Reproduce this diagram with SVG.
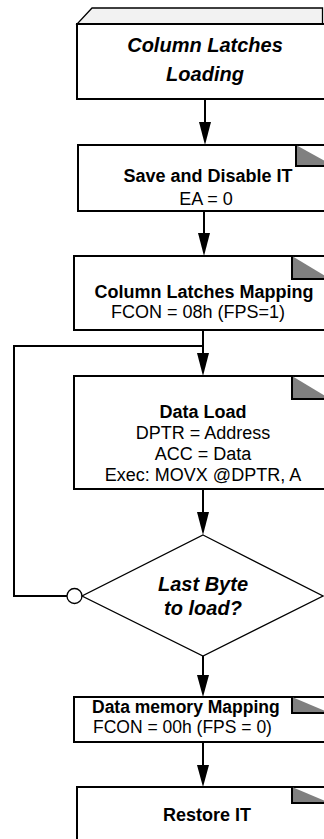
<svg xmlns="http://www.w3.org/2000/svg" width="324" height="839" viewBox="0 0 324 839">
<style>
.box{fill:#fff;stroke:#000;stroke-width:2}
.ear{fill:#808080;stroke:none}
.earl{fill:none;stroke:#000;stroke-width:2}
.con{fill:none;stroke:#000;stroke-width:2}
.t{font-family:"Liberation Sans",Arial,sans-serif;font-size:18px;text-anchor:middle;fill:#000}
.b{font-weight:bold}
.bi{font-weight:bold;font-style:italic;font-size:20px}
</style>
<g id="connectors">
<line class="con" x1="205" y1="99" x2="205" y2="124"/>
<path d="M199,122 L211,122 L205,145 Z" fill="#000"/>
<line class="con" x1="204" y1="211" x2="204" y2="236"/>
<path d="M198,233 L210,233 L204,256 Z" fill="#000"/>
<line class="con" x1="203" y1="330" x2="203" y2="356"/>
<path d="M197,353 L209,353 L203,376 Z" fill="#000"/>
<polyline class="con" points="203,346 14,346 14,596 67,596"/>
<circle cx="74.5" cy="596" r="7.5" fill="#fff" stroke="#000" stroke-width="1.3"/>
<line class="con" x1="203" y1="489" x2="203" y2="515"/>
<path d="M197,512 L209,512 L203,535 Z" fill="#000"/>
<line class="con" x1="203" y1="656" x2="203" y2="678"/>
<path d="M197,675 L209,675 L203,697 Z" fill="#000"/>
<line class="con" x1="203" y1="742" x2="203" y2="768"/>
<path d="M197,765 L209,765 L203,787 Z" fill="#000"/>
</g>
<g id="n1">
<polygon points="92,8 322.5,8 322.5,24 77,24" fill="#f2f2f2" stroke="#000" stroke-width="1.3"/>
<rect class="box" x="77" y="24" width="270" height="75"/>
<text class="t bi" x="205" y="52">Column Latches</text>
<text class="t bi" x="205" y="81">Loading</text>
</g>
<g id="n2">
<rect class="box" x="78" y="145" width="270" height="66"/>
<rect x="297" y="140" width="40" height="4" fill="#fff"/>
<polygon class="ear" points="296,145 296,166 334,166"/>
<polyline class="earl" points="296,144 296,166 334,166"/>
<text class="t b" x="208" y="182">Save and Disable IT</text>
<text class="t" x="206" y="205">EA = 0</text>
</g>
<g id="n3">
<rect class="box" x="74" y="256" width="270" height="74"/>
<rect x="293" y="250" width="45" height="5" fill="#fff"/>
<polygon class="ear" points="292,256 292,279 330,279"/>
<polyline class="earl" points="292,255 292,279 330,279"/>
<text class="t b" x="204" y="298">Column Latches Mapping</text>
<text class="t" x="198" y="318">FCON = 08h (FPS=1)</text>
</g>
<g id="n4">
<rect class="box" x="74" y="376" width="270" height="113"/>
<rect x="293" y="370" width="45" height="5" fill="#fff"/>
<polygon class="ear" points="292,376 292,399 330,399"/>
<polyline class="earl" points="292,375 292,399 330,399"/>
<text class="t b" x="203" y="418">Data Load</text>
<text class="t" x="203" y="439">DPTR = Address</text>
<text class="t" x="203" y="460">ACC = Data</text>
<text class="t" x="203" y="481">Exec: MOVX @DPTR, A</text>
</g>
<g id="n5">
<polygon points="203,535 323,596 203,656 82,596" fill="#fff" stroke="#000" stroke-width="1.3"/>
<text class="t bi" x="203" y="591">Last Byte</text>
<text class="t bi" x="203" y="615">to load?</text>
</g>
<g id="n6">
<rect class="box" x="74" y="697" width="270" height="45"/>
<rect x="293" y="691" width="45" height="5" fill="#fff"/>
<polygon class="ear" points="292,697 292,713 330,713"/>
<polyline class="earl" points="292,696 292,713 330,713"/>
<text class="t b" x="92" y="713" style="text-anchor:start;font-size:17.5px">Data memory Mapping</text>
<text class="t" x="93" y="733" style="text-anchor:start;font-size:17.5px">FCON = 00h (FPS = 0)</text>
</g>
<g id="n7">
<rect class="box" x="77" y="787" width="270" height="70"/>
<rect x="293" y="781" width="45" height="5" fill="#fff"/>
<polygon class="ear" points="292,787 292,803 330,803"/>
<polyline class="earl" points="292,786 292,803 330,803"/>
<text class="t b" x="207" y="821">Restore IT</text>
</g>
</svg>
